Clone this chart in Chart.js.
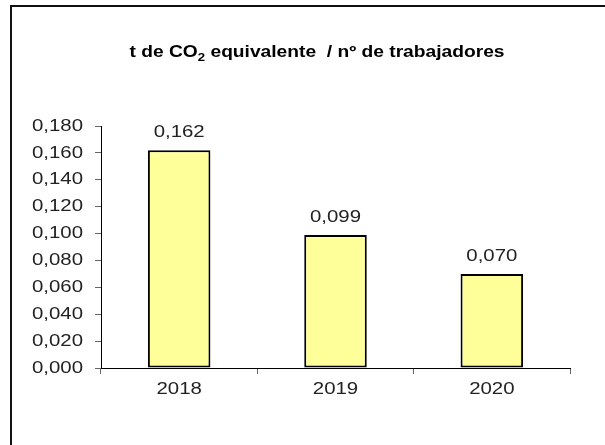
<!DOCTYPE html>
<html>
<head>
<meta charset="utf-8">
<script src="https://cdn.jsdelivr.net/npm/chart.js@4/dist/chart.umd.min.js"></script>
<style>
  html, body { margin: 0; padding: 0; background: #fff; overflow: hidden; }
  #wrap { position: relative; width: 605px; height: 445px; }
  #frame { position: absolute; left: 10px; top: 5px; width: 700px; height: 600px;
           border-left: 2px solid #111; border-top: 2px solid #111; box-sizing: border-box; pointer-events: none; }
  canvas { position: absolute; left: 0; top: 0; }
</style>
</head>
<body>
<div id="wrap">
  <canvas id="c" width="605" height="445"></canvas>
  <div id="frame"></div>
</div>
<script>
const categories = ["2018", "2019", "2020"];
const values = [0.162, 0.099, 0.070];
const yTickMin = 0;
const yTickMax = 0.18;
const yTickStep = 0.02;
const titleParts = ["t de CO", "2", " equivalente  / nº de trabajadores"];

const fmt = v => v.toFixed(3).replace('.', ',');
const FONT = "'Liberation Sans', Arial, sans-serif";
const SX = 1.2; // horizontal stretch of the reference's text

const canvas = document.getElementById('c');
const ctx0 = canvas.getContext('2d');
const origFill = ctx0.fillText.bind(ctx0);
const origMeasure = ctx0.measureText.bind(ctx0);
ctx0.fillText = function (t, x, y, mw) {
  this.save();
  this.translate(x, y);
  this.scale(SX, 1);
  if (mw !== undefined) origFill(t, 0, 0, mw / SX); else origFill(t, 0, 0);
  this.restore();
};
ctx0.measureText = function (t) {
  const m = origMeasure(t);
  return { width: m.width * SX,
           actualBoundingBoxAscent: m.actualBoundingBoxAscent,
           actualBoundingBoxDescent: m.actualBoundingBoxDescent,
           actualBoundingBoxLeft: m.actualBoundingBoxLeft * SX,
           actualBoundingBoxRight: m.actualBoundingBoxRight * SX };
};

const titlePlugin = {
  id: 'subTitle',
  afterDraw(chart) {
    const ctx = chart.ctx;
    ctx.save();
    ctx.fillStyle = '#000';
    ctx.textBaseline = 'alphabetic';
    const big = "bold 16px " + FONT, small = "bold 11px " + FONT;
    ctx.font = big; const w1 = ctx.measureText(titleParts[0]).width;
    ctx.font = small; const w2 = ctx.measureText(titleParts[1]).width;
    ctx.font = big; const w3 = ctx.measureText(titleParts[2]).width;
    let x = 317 - (w1 + w2 + w3) / 2;
    const y = 57;
    ctx.textAlign = 'left';
    ctx.font = big; ctx.fillText(titleParts[0], x, y); x += w1;
    ctx.font = small; ctx.fillText(titleParts[1], x, y + 4); x += w2;
    ctx.font = big; ctx.fillText(titleParts[2], x, y);
    ctx.restore();
  }
};

const labelPlugin = {
  id: 'valueLabels',
  afterDatasetsDraw(chart) {
    const ctx = chart.ctx;
    const meta = chart.getDatasetMeta(0);
    ctx.save();
    ctx.fillStyle = '#222';
    ctx.font = "17px " + FONT;
    ctx.textAlign = 'center';
    ctx.textBaseline = 'alphabetic';
    meta.data.forEach((bar, i) => {
      ctx.fillText(fmt(chart.data.datasets[0].data[i]), bar.x, bar.y - 13);
    });
    ctx.restore();
  }
};

new Chart(canvas, {
  type: 'bar',
  data: {
    labels: categories,
    datasets: [{
      data: values,
      backgroundColor: '#FFFF99',
      borderColor: '#000',
      borderWidth: 2,
      borderSkipped: false,
      barPercentage: 0.8,
      categoryPercentage: 0.5
    }]
  },
  options: {
    responsive: false,
    animation: false,
    devicePixelRatio: 1,
    layout: { padding: { left: 20, right: 35, top: 126, bottom: 37 } },
    plugins: { legend: { display: false }, title: { display: false }, tooltip: { enabled: false } },
    scales: {
      x: {
        afterFit(scale) { scale.height = 40; },
        grid: { drawOnChartArea: false, drawTicks: true, tickLength: 6, color: '#666', offset: true },
        border: { display: true, color: '#000', width: 1 },
        ticks: { color: '#222', font: { family: FONT, size: 17 }, padding: 5, maxRotation: 0 }
      },
      y: {
        min: yTickMin, max: yTickMax,
        afterFit(scale) { scale.width = 81; },
        grid: { drawOnChartArea: false, drawTicks: true, tickLength: 6, color: '#666' },
        border: { display: true, color: '#000', width: 1 },
        ticks: { stepSize: yTickStep, color: '#222', font: { family: FONT, size: 17 }, padding: 12,
                 callback: v => fmt(v) }
      }
    }
  },
  plugins: [titlePlugin, labelPlugin]
});
</script>
</body>
</html>
